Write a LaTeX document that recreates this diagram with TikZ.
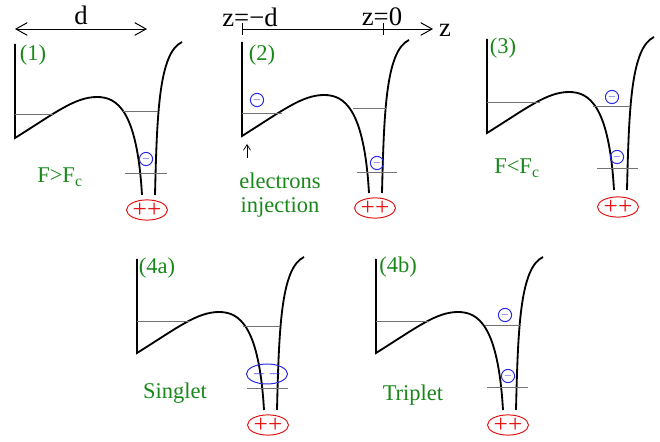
\documentclass[tikz,border=0pt]{standalone}
\usepackage{fontspec}
\setmainfont{Liberation Serif}
\usetikzlibrary{arrows.meta,shapes.geometric}
\definecolor{lblgreen}{RGB}{25,135,25}
\definecolor{eblue}{RGB}{40,40,225}
\definecolor{nred}{RGB}{228,20,20}
% potential: wall, barrier and well around the nucleus
\def\well{%
    \draw[pot] (0,94) -- (0,0) .. controls (40,25) and (60,41) .. (82,41)
        .. controls (102,41) and (122,28) .. (127,-57);
    \draw[pot] (140,-57) .. controls (142,25) and (144,85) .. (167,96);}
\def\pp{+\kern0.3pt+}

\begin{document}
\begin{tikzpicture}[x=0.025cm,y=0.025cm,>={Straight Barb[length=8pt,width=9pt]},
    pot/.style={line width=1.3pt},
    level/.style={black!55,line width=0.6pt},
    lbl/.style={text=lblgreen,font=\fontsize{16}{17}\selectfont},
    blk/.style={font=\fontsize{19}{20}\selectfont},
    elec/.style={circle,draw=eblue,text=eblue,line width=0.7pt,inner sep=0pt,minimum size=0.33cm,font=\scriptsize},
    pair/.style={ellipse,draw=eblue,text=eblue,line width=0.7pt,inner sep=0pt,minimum width=1cm,minimum height=0.5cm,font=\large},
    nuc/.style={ellipse,draw=nred,text=nred,line width=0.7pt,inner sep=0pt,minimum width=1cm,minimum height=0.45cm,font=\fontsize{18}{18}\selectfont}]

    \useasboundingbox (0,0) rectangle (660,442);

    \begin{scope}[shift={(15,304)}]
        \well
        \draw[level] (0,24) -- (38,24);
        \draw[level] (108,27) -- (143,27);
        \draw[level] (110,-35) -- (152,-35);
        \draw (131,-21) node[elec] (e1) {$-$};
        \draw (132,-72) node[nuc] (n1) {\pp};
        \draw (18,83) node[lbl] (l1) {(1)};
        \draw (45,-39) node[lbl] (f1) {F>F\textsubscript{c}};
        \coordinate (dl) at (0,109);
        \coordinate (dr) at (132,109);
        \draw[<->,line width=0.7pt] (dl) -- node[blk,above,yshift=-1pt] (dd) {d} (dr);
    \end{scope}

    \begin{scope}[shift={(242,306)}]
        \well
        \draw[level] (0,23) -- (40,23);
        \draw[level] (111,28) -- (145,28);
        \draw[level] (115,-36) -- (155,-36);
        \draw (15,36) node[elec] (e2a) {$-$};
        \draw (135,-27) node[elec] (e2b) {$-$};
        \draw (133,-72) node[nuc] (n2) {\pp};
        \draw (20,81) node[lbl] (l2) {(2)};
        % z axis
        \coordinate (zs) at (0,107);
        \coordinate (z0) at (141,107);
        \coordinate (ze) at (191,107);
        \draw[->,line width=0.7pt] (zs) -- (ze);
        \draw[line width=0.7pt] ([yshift=-4]zs) -- ([yshift=4]zs);
        \draw[line width=0.7pt] ([yshift=-4]z0) -- ([yshift=4]z0);
        \draw (8,119) node[blk] (zd) {z=\textminus d};
        \draw (140,119) node[blk] (zz) {z=0};
        \draw (203,106) node[blk] (zl) {z};
        % injection
        \coordinate (ia) at (5,-22);
        \coordinate (ib) at (5,-8);
        \draw[-{Straight Barb[length=4pt,width=5pt]},line width=0.5pt] (ia) -- (ib);
        \draw (38,-59) node[lbl,align=center] (inj) {electrons\\injection};
    \end{scope}

    \begin{scope}[shift={(487,309)}]
        \well
        \draw[level] (0,31) -- (53,31);
        \draw[level] (106,27) -- (143,27);
        \draw[level] (110,-35) -- (151,-35);
        \draw (125,36) node[elec] (e3a) {$-$};
        \draw (130,-24) node[elec] (e3b) {$-$};
        \draw (131,-74) node[nuc] (n3) {\pp};
        \draw (16,85) node[lbl] (l3) {(3)};
        \draw (30,-35) node[lbl] (f3) {F<F\textsubscript{c}};
    \end{scope}

    \begin{scope}[shift={(137,89)}]
        \well
        \draw[level] (0,32) -- (53,32);
        \draw[level] (106,27) -- (143,27);
        \draw[level] (110,-35) -- (151,-35);
        \draw (130,-21) node[pair] (p4a) {$-\,-$};
        \draw (131,-72) node[nuc] (n4a) {\pp};
        \draw (20,85) node[lbl] (l4a) {(4a)};
        \draw (38,-40) node[lbl] (s4a) {Singlet};
    \end{scope}

    \begin{scope}[shift={(376,89)}]
        \well
        \draw[level] (0,32) -- (52,32);
        \draw[level] (109,28) -- (144,28);
        \draw[level] (111,-34) -- (152,-34);
        \draw (129,38) node[elec] (e4a) {$-$};
        \draw (132,-23) node[elec] (e4b) {$-$};
        \draw (132,-72) node[nuc] (n4b) {\pp};
        \draw (22,86) node[lbl] (l4b) {(4b)};
        \draw (37,-42) node[lbl] (t4b) {Triplet};
    \end{scope}

\end{tikzpicture}
\end{document}
